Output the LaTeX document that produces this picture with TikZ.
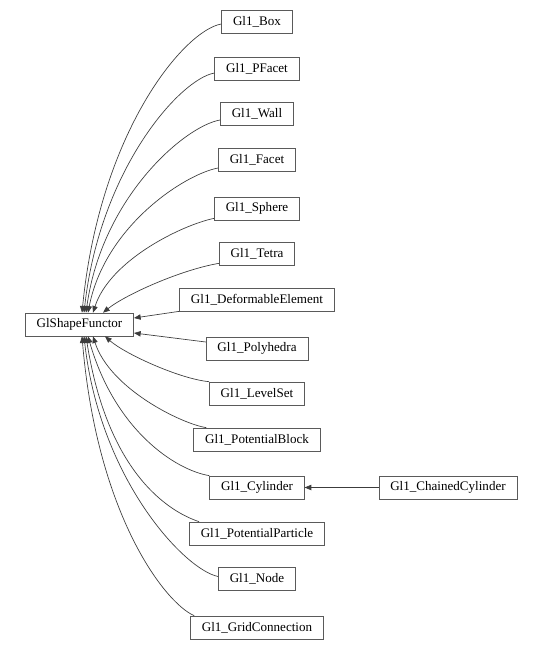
\documentclass[tikz,border=0pt]{standalone}
\usepackage{fontspec}
\setmainfont{Liberation Serif}
\usepackage{tikz}
\usetikzlibrary{arrows.meta,calc,positioning}
\definecolor{EdgeGray}{RGB}{60,60,60}
\definecolor{BoxGray}{RGB}{90,90,90}

\begin{document}
\begin{tikzpicture}[x=0.75pt, y=-0.75pt,
	cls/.style={draw=BoxGray, line width=0.5pt, minimum height=17.25pt, inner xsep=8.5pt, inner ysep=0pt, font=\fontsize{9.8}{12}\selectfont},
	inh/.style={draw=EdgeGray, line width=0.5pt, -{Triangle[length=5pt,width=4pt]}}]
	\useasboundingbox[fill=white] (0,0) rectangle (541,650);
	
	% base class
	\node[cls] (gsf) at (79.5,324.5) {GlShapeFunctor};
	
	% derived classes
	\node[cls] (box)    at (257,21.5)  {Gl1\_Box};
	\node[cls] (pfacet) at (257,68.5)  {Gl1\_PFacet};
	\node[cls] (wall)   at (257,113.5) {Gl1\_Wall};
	\node[cls] (facet)  at (257,159.5) {Gl1\_Facet};
	\node[cls] (sphere) at (257,208.5) {Gl1\_Sphere};
	\node[cls] (tetra)  at (257,253.5) {Gl1\_Tetra};
	\node[cls] (deform) at (257,299.5) {Gl1\_DeformableElement};
	\node[cls] (poly)   at (257,348.5) {Gl1\_Polyhedra};
	\node[cls] (lset)   at (257,393.5) {Gl1\_LevelSet};
	\node[cls] (pblock) at (257,439.5) {Gl1\_PotentialBlock};
	\node[cls] (cyl)    at (257,487.5) {Gl1\_Cylinder};
	\node[cls] (ppart)  at (257,533.5) {Gl1\_PotentialParticle};
	\node[cls] (gnode)  at (257,578.5) {Gl1\_Node};
	\node[cls] (gconn)  at (257,627.5) {Gl1\_GridConnection};
	\node[cls] (chcyl)  at (448,487.5) {Gl1\_ChainedCylinder};
	
	% edges into the top of the base class
	\draw[inh] ($(box.west)+(0,2.5)$) .. controls (185,30) and (100,130) .. ($(gsf.north)+(2.5,0)$);
	\draw[inh] ($(pfacet.west)+(0,4.5)$) .. controls (180,79) and (100,169) .. ($(gsf.north)+(4.5,0)$);
	\draw[inh] ($(wall.west)+(0,6.5)$) .. controls (185,126) and (102,197) .. ($(gsf.north)+(6.5,0)$);
	\draw[inh] ($(facet.west)+(0,8.5)$) .. controls (185,174) and (105,226) .. ($(gsf.north)+(8.5,0)$);
	\draw[inh] ($(sphere.south west)+(0,-2)$) .. controls (182,225) and (110,260) .. ($(gsf.north)+(13.5,0)$);
	\draw[inh] ($(tetra.south west)+(0,-2)$) .. controls (180,270) and (125,295) .. ($(gsf.north)+(23.5,0)$);
	
	% edges into the right side
	\draw[inh] (deform.south west) -- ($(gsf.east)+(0,-6.5)$);
	\draw[inh] ($(poly.west)+(0,-6.5)$) -- ($(gsf.east)+(0,8.5)$);
	
	% edges into the bottom
	\draw[inh] (lset.north west) .. controls (180,379) and (125,354) .. ($(gsf.south)+(25.5,0)$);
	\draw[inh] ($(pblock.north west)+(13,0)$) .. controls (182,424) and (110,389) .. ($(gsf.south)+(13.5,0)$);
	\draw[inh] (cyl.north west) .. controls (175,470) and (115,430) .. ($(gsf.south)+(8.5,0)$);
	\draw[inh] ($(ppart.north west)+(10,0)$) .. controls (170,512) and (108,475) .. ($(gsf.south)+(6.5,0)$);
	\draw[inh] ($(gnode.west)+(0,-2)$) .. controls (185,570) and (100,480) .. ($(gsf.south)+(4.5,0)$);
	\draw[inh] ($(gconn.north west)+(4,0)$) .. controls (165,603) and (97,515) .. ($(gsf.south)+(2.5,0)$);
	
	% second level
	\draw[inh] (chcyl.west) -- (cyl.east);
\end{tikzpicture}
\end{document}
